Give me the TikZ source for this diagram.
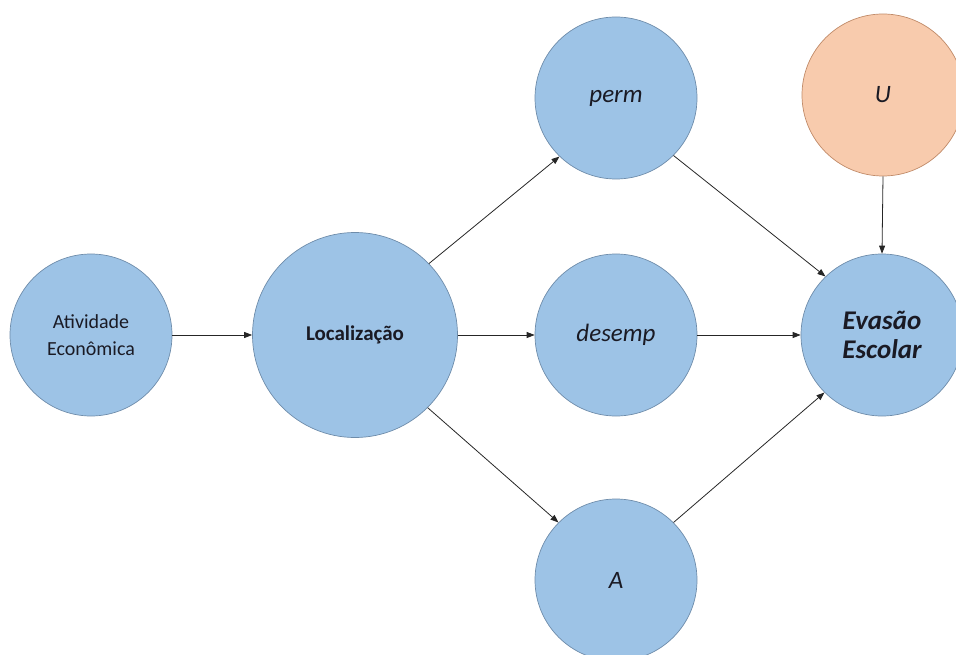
\documentclass[tikz,border=0pt]{standalone}
\usepackage{fontspec}
\setmainfont{Carlito}
\usetikzlibrary{arrows.meta}
\definecolor{bluefill}{HTML}{9DC3E6}
\definecolor{blueline}{HTML}{6E8CAA}
\definecolor{orangefill}{HTML}{F8CBAD}
\definecolor{orangeline}{HTML}{C08A68}
\definecolor{txt}{HTML}{1A1A24}
\begin{document}
\begin{tikzpicture}[x=1pt,y=-1pt,
  var/.style={circle,draw=blueline,fill=bluefill,line width=0.7pt,minimum size=162pt,inner sep=0pt,text=txt,align=center,font=\fontsize{20}{27}\selectfont},
  bigvar/.style={var,minimum size=205pt,font=\fontsize{21}{27}\selectfont},
  ital/.style={font=\fontsize{25}{29}\selectfont\itshape},
  bigital/.style={font=\fontsize{27}{29}\selectfont\itshape\bfseries},
  hidden/.style={var,draw=orangeline,fill=orangefill},
  arr/.style={-{Triangle[length=8pt,width=6pt]},line width=0.8pt,draw=black!85}]
\useasboundingbox (0,0) rectangle (956,655);
\node[var] (ativ) at (91,335) {Atividade\\Econômica};
\node[bigvar] (loc) at (355,335) {\textbf{Localização}};
\node[var,ital] (perm) at (616,98) {perm};
\node[var,ital] (desemp) at (616,335) {desemp};
\node[var,ital] (A) at (616,580) {A};
\node[hidden,ital] (U) at (883,95) {U};
\node[var,bigital] (ev) at (882,335) {Evasão\\Escolar};
\draw[arr] (ativ.east) -- (loc.west);
\draw[arr] (loc.44) -- (perm.226);
\draw[arr] (loc.east) -- (desemp.west);
\draw[arr] (loc.-45) -- (A.135);
\draw[arr] (perm.-45) -- (ev.134);
\draw[arr] (desemp.east) -- (ev.west);
\draw[arr] (A.45) -- (ev.225);
\draw[arr] (U.south) -- (ev.north);
\end{tikzpicture}
\end{document}
